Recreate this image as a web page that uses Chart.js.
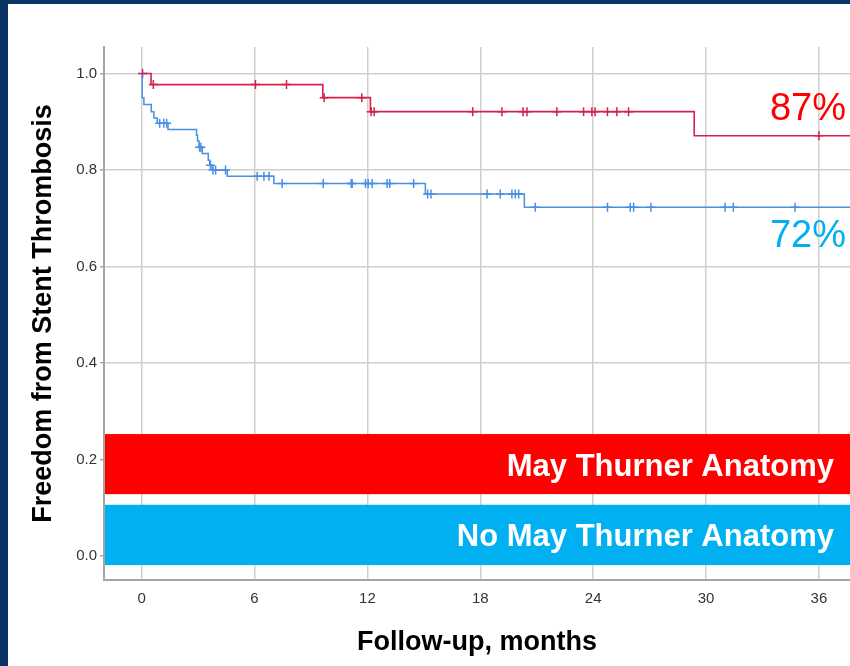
<!DOCTYPE html>
<html>
<head>
<meta charset="utf-8">
<script src="https://cdn.jsdelivr.net/npm/chart.js@4/dist/chart.umd.min.js"></script>
<style>
  html, body { margin: 0; padding: 0; }
  body { width: 850px; height: 666px; background: #0a3466; position: relative; overflow: hidden; }
  #panel { position: absolute; left: 8px; top: 4px; width: 842px; height: 662px; background: #ffffff; }
  #km { position: absolute; left: 0; top: 0; }
</style>
</head>
<body>
<div id="panel"></div>
<canvas id="km" width="850" height="666"></canvas>
<script>
// --- datos (meses, supervivencia libre de trombosis) ---
const xTicks = [0, 6, 12, 18, 24, 30, 36];
const yTicks = [0.0, 0.2, 0.4, 0.6, 0.8, 1.0];

// May Thurner: momentos de evento y supervivencia tras cada escalon
const mtTimes = [0, 0.5, 9.63, 12.16, 29.37, 38];
const mtSurv  = [1.0, 0.977, 0.950, 0.921, 0.871, 0.871];
const mtCensored = [0.05, 0.62, 6.05, 7.7, 9.7, 11.7, 12.2, 12.36, 17.6, 19.15, 20.27, 20.48,
                    22.07, 23.49, 23.93, 24.1, 24.76, 25.26, 25.88, 36.0];

// Sin May Thurner
const noMtTimes = [0, 0.03, 0.12, 0.51, 0.65, 0.83, 1.40, 2.92, 2.97, 3.05, 3.22, 3.54, 3.62,
                   3.75, 4.55, 7.03, 15.08, 20.34, 38];
const noMtSurv  = [1.0, 0.950, 0.936, 0.921, 0.908, 0.897, 0.884, 0.872, 0.860, 0.847, 0.834,
                   0.820, 0.810, 0.800, 0.787, 0.772, 0.750, 0.723, 0.723];
const noMtCensored = [0.96, 1.18, 1.33, 3.08, 3.15, 3.66, 3.79, 3.93, 4.46, 6.14, 6.5, 6.77,
                      7.47, 9.65, 11.14, 11.19, 11.9, 12.04, 12.25, 13.05, 13.19, 14.46, 15.2,
                      15.38, 18.36, 19.06, 19.68, 19.86, 20.04, 20.92, 24.76, 25.97, 26.15,
                      27.07, 31.01, 31.45, 34.73];

const groupLabels = ['May Thurner Anatomy', 'No May Thurner Anatomy'];
const endPercents = ['87%', '72%'];

// valor de la curva escalonada en un momento dado (para colocar las cruces de censura)
const survAt = (times, surv, t) => {
    let s = surv[0];
    for (let i = 0; i < times.length; i++) {
        if (times[i] <= t) s = surv[i];
    }
    return s;
};

const toPoints = (times, surv) => times.map((t, i) => ({ x: t, y: surv[i] }));
const toCensor = (times, surv, cens) => cens.map(t => ({ x: t, y: survAt(times, surv, t) }));

const FONT = '"Liberation Sans", Arial, sans-serif';
const RED_LINE = '#d6214c';
const BLUE_LINE = '#4a8fe2';

// bandas de color con el nombre del grupo + porcentajes finales
const bandsPlugin = {
    id: 'bands',
    beforeDatasetsDraw(chart) {
        const { ctx, chartArea, scales: { y } } = chart;
        const bands = [
            { top: 0.2526, bottom: 0.128, color: '#ff0000', text: groupLabels[0] },
            { top: 0.106, bottom: -0.019, color: '#00b0f0', text: groupLabels[1] }
        ];
        ctx.save();
        bands.forEach(b => {
            const y1 = y.getPixelForValue(b.top);
            const y2 = y.getPixelForValue(b.bottom);
            ctx.fillStyle = b.color;
            ctx.fillRect(chartArea.left + 1, y1, chartArea.right - chartArea.left - 1, y2 - y1);
            ctx.fillStyle = '#ffffff';
            ctx.font = 'bold 31px ' + FONT;
            ctx.textAlign = 'right';
            ctx.textBaseline = 'alphabetic';
            ctx.fillText(b.text, chartArea.right - 16, (y1 + y2) / 2 + 11.5);
        });
        ctx.restore();
    },
    afterDatasetsDraw(chart) {
        const { ctx, chartArea, scales: { y } } = chart;
        ctx.save();
        ctx.font = '38px ' + FONT;
        ctx.textAlign = 'right';
        ctx.textBaseline = 'alphabetic';
        ctx.fillStyle = '#ff0000';
        ctx.fillText(endPercents[0], chartArea.right - 4, y.getPixelForValue(0.903));
        ctx.fillStyle = '#00b0f0';
        ctx.fillText(endPercents[1], chartArea.right - 4, y.getPixelForValue(0.640));
        ctx.restore();
    }
};

const gridCfg = { color: '#cfcfcf', lineWidth: 1.5 };

new Chart(document.getElementById('km').getContext('2d'), {
    type: 'line',
    data: {
        datasets: [
            { label: groupLabels[0], data: toPoints(mtTimes, mtSurv), borderColor: RED_LINE,
              borderWidth: 1.6, stepped: true, pointRadius: 0, fill: false },
            { label: groupLabels[1], data: toPoints(noMtTimes, noMtSurv), borderColor: BLUE_LINE,
              borderWidth: 1.5, stepped: true, pointRadius: 0, fill: false },
            { label: 'cens-mt', data: toCensor(mtTimes, mtSurv, mtCensored), showLine: false,
              pointStyle: 'cross', pointRadius: 4.5, borderColor: RED_LINE, borderWidth: 1.5 },
            { label: 'cens-nomt', data: toCensor(noMtTimes, noMtSurv, noMtCensored), showLine: false,
              pointStyle: 'cross', pointRadius: 4.5, borderColor: BLUE_LINE, borderWidth: 1.5 }
        ]
    },
    options: {
        responsive: false,
        animation: false,
        events: [],
        layout: { autoPadding: false, padding: { top: 47, right: 0, bottom: 0, left: 0 } },
        plugins: { legend: { display: false }, tooltip: { enabled: false } },
        scales: {
            x: {
                type: 'linear', min: -2, max: 37.65,
                afterBuildTicks: s => { s.ticks = xTicks.map(v => ({ value: v })); },
                afterFit: s => { s.height = 86; s.paddingLeft = 0; s.paddingRight = 0; },
                grid: { ...gridCfg, drawTicks: false },
                border: { color: '#a5a5a5', width: 2 },
                ticks: { padding: 10, color: '#333', font: { family: FONT, size: 15 } },
                title: { display: true, text: 'Follow-up, months', color: '#000',
                         font: { family: FONT, size: 27, weight: 'bold' }, padding: { top: 0, bottom: 7 } }
            },
            y: {
                type: 'linear', min: -0.05, max: 1.055,
                afterBuildTicks: s => { s.ticks = yTicks.map(v => ({ value: v })); },
                afterFit: s => { s.width = 104; s.paddingTop = 0; s.paddingBottom = 0; },
                grid: { ...gridCfg, tickLength: 4, tickColor: '#a5a5a5' },
                border: { color: '#a5a5a5', width: 2 },
                ticks: { padding: 3, color: '#333', font: { family: FONT, size: 15 },
                         callback: v => v.toFixed(1) },
                title: { display: true, text: 'Freedom from Stent Thrombosis', color: '#000',
                         font: { family: FONT, size: 27, weight: 'bold' }, padding: { top: 27.5, bottom: 0 } }
            }
        }
    },
    plugins: [bandsPlugin]
});
</script>
</body>
</html>
